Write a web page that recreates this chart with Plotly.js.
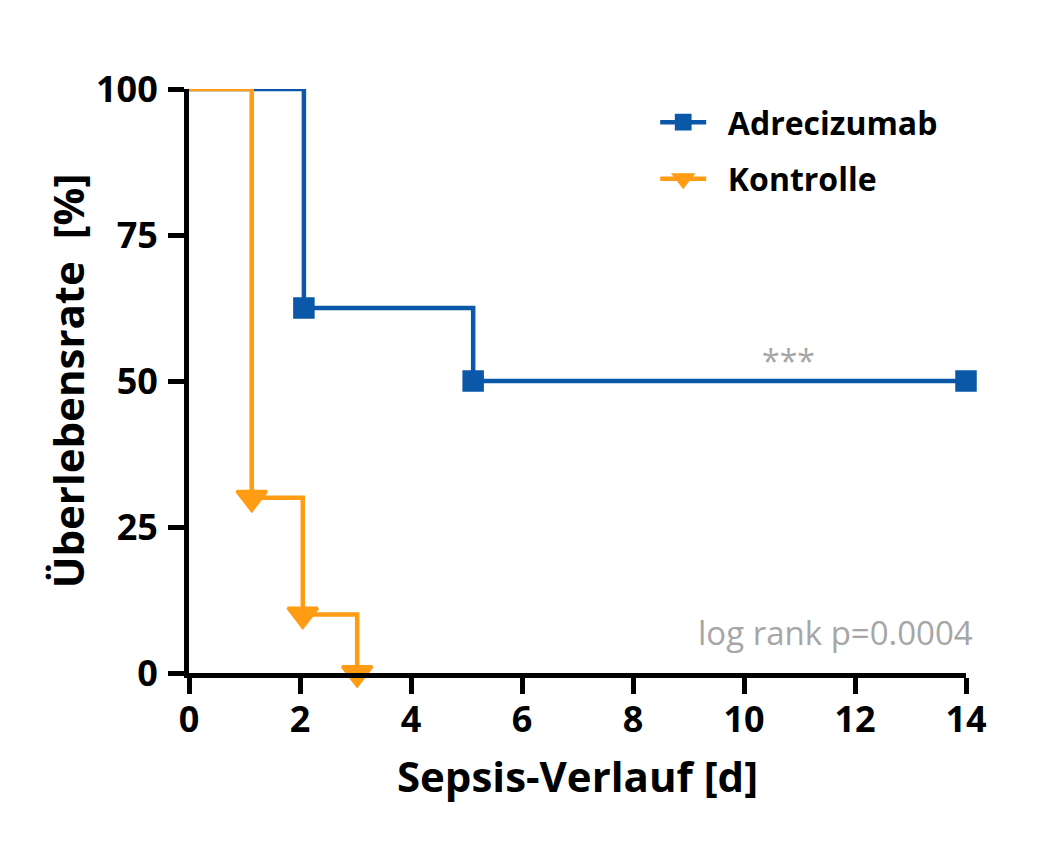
<!DOCTYPE html>
<html>
<head>
<meta charset="utf-8">
<script src="https://cdn.plot.ly/plotly-3.0.1.min.js"></script>
<style>
  html, body { margin: 0; padding: 0; background: #fff; }
  #chart { width: 1063px; height: 863px; }
</style>
</head>
<body>
<div id="chart"></div>
<script>
// Kaplan-Meier survival
const adreName = 'Adrecizumab';
const adreDays = [0, 2.07, 5.12, 14];
const adreSurv = [100, 62.5, 50, 50];

const kontName = 'Kontrolle';
const kontDays = [0, 1.13, 2.05, 3.03];
const kontSurv = [100, 30, 10, 0];

const xTicks = [0, 2, 4, 6, 8, 10, 12, 14];
const yTicks = [0, 25, 50, 75, 100];

const BLUE = '#0b58a8';
const ORANGE = '#ff9c14';
const GREY = '#a6a6a6';
const FONT = '"Open Sans", Lato, sans-serif';

// no marker on the starting point (day 0)
const hideFirst = (arr, size) => arr.map((_, i) => (i === 0 ? 0 : size));
// a bit of room between legend symbol and label
const pad = (s) => '\u00a0\u00a0' + s;

const traces = [
  {
    type: 'scatter',
    mode: 'lines+markers',
    name: pad(adreName),
    legendgroup: 'a',
    x: adreDays,
    y: adreSurv,
    line: { shape: 'hv', color: BLUE, width: 4.5 },
    marker: { symbol: 'square', size: hideFirst(adreDays, 19), opacity: 1, color: BLUE, line: { color: BLUE, width: 2.5 } },
    cliponaxis: false,
  },
  {
    type: 'scatter',
    mode: 'lines+markers',
    name: pad(kontName),
    legendgroup: 'k',
    x: kontDays,
    y: kontSurv,
    line: { shape: 'hv', color: ORANGE, width: 4.5 },
    marker: { symbol: 'triangle-down', size: hideFirst(kontDays, 26), opacity: 1, color: ORANGE, line: { color: ORANGE, width: 3 } },
    cliponaxis: false,
  },
];

const axisCommon = {
  showgrid: false,
  zeroline: false,
  showline: true,
  linecolor: '#000',
  linewidth: 5,
  ticks: 'outside',
  ticklen: 16,
  tickwidth: 5,
  tickcolor: '#000',
  tickfont: { family: FONT, size: 36, color: '#000', weight: 'bold' },
  fixedrange: true,
};

const layout = {
  width: 1063,
  height: 863,
  margin: { l: 189, r: 97, t: 89, b: 190 },
  paper_bgcolor: '#fff',
  plot_bgcolor: '#fff',
  font: { family: FONT, color: '#000' },
  xaxis: {
    ...axisCommon,
    range: [0, 14],
    tickvals: xTicks,
    ticklabelstandoff: -5,
    title: { text: 'Sepsis-Verlauf [d]', font: { family: FONT, size: 42, weight: 'bold' }, standoff: 22 },
  },
  yaxis: {
    ...axisCommon,
    range: [0, 100],
    tickvals: yTicks,
    ticklabelstandoff: 3,
    title: { text: 'Überlebensrate  [%]', font: { family: FONT, size: 42, weight: 'bold' }, standoff: 0 },
  },
  showlegend: true,
  legend: {
    x: 0.6,
    y: 0.99,
    xanchor: 'left',
    yanchor: 'top',
    itemwidth: 46,
    traceorder: 'grouped',
    tracegroupgap: 12,
    font: { family: FONT, size: 32, weight: 'bold', color: '#000' },
    bgcolor: 'rgba(0,0,0,0)',
  },
  annotations: [
    {
      text: '***',
      x: 10.8,
      y: 50,
      xref: 'x',
      yref: 'y',
      yanchor: 'middle',
      yshift: 21,
      showarrow: false,
      font: { family: FONT, size: 32, color: GREY },
    },
    {
      text: 'log rank p=0.0004',
      x: 1.012,
      y: 0.07,
      xref: 'paper',
      yref: 'paper',
      xanchor: 'right',
      yanchor: 'middle',
      showarrow: false,
      font: { family: FONT, size: 33, color: GREY },
    },
  ],
};

Plotly.newPlot('chart', traces, layout, { displayModeBar: false, staticPlot: true });
</script>
</body>
</html>
